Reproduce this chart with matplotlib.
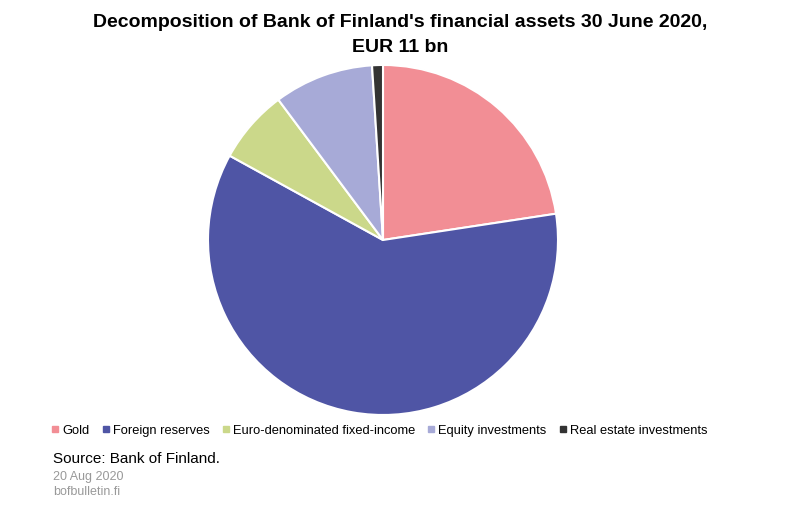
import matplotlib.pyplot as plt
from matplotlib.lines import Line2D

plt.rcParams['font.family'] = ['Liberation Sans', 'DejaVu Sans']

labels = ["Gold", "Foreign reserves", "Euro-denominated fixed-income",
          "Equity investments", "Real estate investments"]
shares = [22.6, 60.4, 6.8, 9.2, 1.0]
colors = ["#F28E95", "#4F55A5", "#CBD88A", "#A7AAD7", "#333333"]

fig = plt.figure(figsize=(8, 5.22), dpi=100)

fig.text(0.5, 0.973, "Decomposition of Bank of Finland's financial assets 30 June 2020,\nEUR 11 bn",
         ha='center', va='top', fontsize=14, fontweight='bold', linespacing=1.6)

ax = fig.add_axes([0.26, 0.205, 0.4375, 0.6705])
ax.pie(shares, colors=colors, startangle=90, counterclock=False,
       wedgeprops=dict(edgecolor='white', linewidth=1.5))
ax.set_xlim(-1, 1)
ax.set_ylim(-1, 1)
ax.set_aspect('equal')

handles = [Line2D([], [], marker='s', linestyle='none', markersize=4,
                  markerfacecolor=c, markeredgecolor=c) for c in colors]
fig.legend(handles, labels, loc='center left', bbox_to_anchor=(0.058, 0.175),
           ncol=5, frameon=False, fontsize=9.3, handletextpad=0.25,
           columnspacing=0.95, handlelength=0.6, borderaxespad=0)

fig.text(0.066, 0.12, "Source: Bank of Finland.", fontsize=11, va='center')
fig.text(0.066, 0.086, "20 Aug 2020", fontsize=9, color='#999999', va='center')
fig.text(0.066, 0.057, "bofbulletin.fi", fontsize=9, color='#999999', va='center')

fig.savefig("out.png", dpi=100)
